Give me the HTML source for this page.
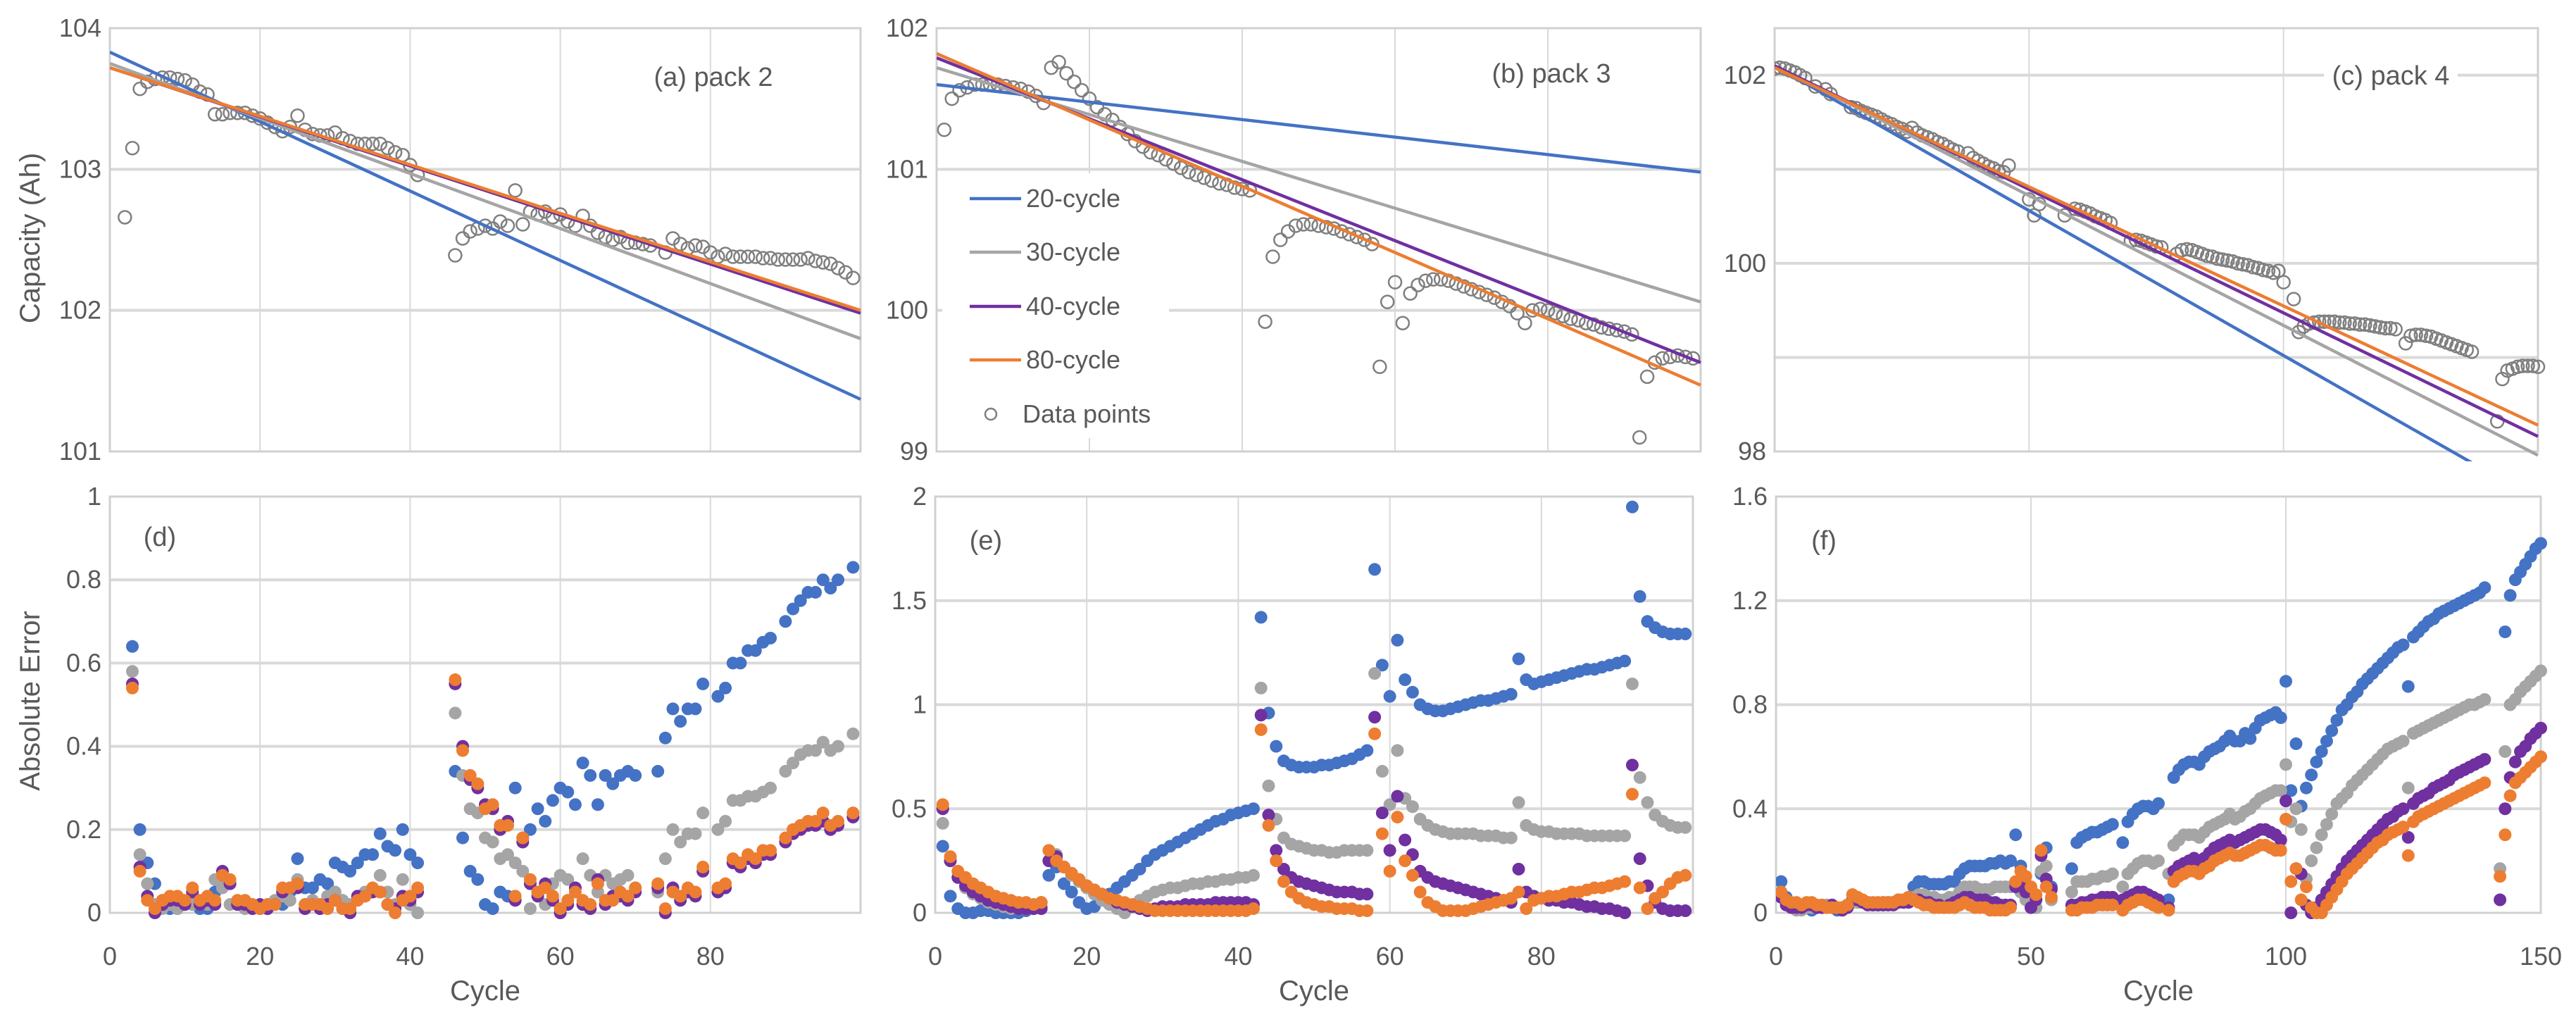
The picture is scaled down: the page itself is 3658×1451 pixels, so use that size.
<!DOCTYPE html>
<html><head><meta charset="utf-8"><title>Capacity fits and absolute error</title>
<style>
html,body{margin:0;padding:0;background:#fff;}
svg{display:block;}
text{font-family:"Liberation Sans Narrow","Liberation Sans",sans-serif;fill:#595959;}
</style></head>
<body>
<svg id="chart" xmlns="http://www.w3.org/2000/svg" width="3658" height="1451" viewBox="0 0 3658 1451"></svg>
<script>
// ---------- DATA ----------
const aStart = 2;
const aData = [102.66,103.15,103.57,103.62,103.64,103.65,103.65,103.64,103.63,103.60,
103.55,103.53,103.39,103.39,103.40,103.40,103.40,103.38,103.36,103.33,
103.30,103.27,103.30,103.38,103.28,103.25,103.24,103.24,103.26,103.22,
103.20,103.18,103.18,103.18,103.18,103.15,103.12,103.10,103.03,102.96,
null,null,null,null,102.39,102.51,102.56,102.58,102.60,102.58,
102.63,102.60,102.85,102.61,102.70,102.68,102.70,102.66,102.68,102.63,
102.60,102.67,102.60,102.55,102.52,102.50,102.52,102.48,102.48,102.47,
102.46,null,102.41,102.51,102.47,102.44,102.46,102.45,102.41,102.38,
102.40,102.38,102.38,102.38,102.38,102.37,102.37,102.36,102.36,102.36,
102.36,102.37,102.35,102.34,102.33,102.30,102.27,102.23];
const aFitStart = [103.83,103.75,103.72,103.72];
const aFitEnd   = [101.37,101.80,101.98,102.00];

const bStart = 1;
const bData = [101.28,101.50,101.56,101.58,101.60,101.60,101.60,101.60,101.59,101.58,
101.57,101.55,101.52,101.47,101.72,101.76,101.68,101.62,101.56,101.50,
101.44,101.39,101.35,101.30,101.25,101.20,101.16,101.12,101.10,101.07,
101.04,101.01,100.98,100.96,100.94,100.92,100.90,100.89,100.87,100.86,
100.85,null,99.92,100.38,100.50,100.56,100.60,100.61,100.61,100.60,
100.59,100.58,100.56,100.54,100.52,100.50,100.47,99.60,100.06,100.20,
99.91,100.12,100.18,100.21,100.22,100.22,100.21,100.19,100.17,100.15,
100.13,100.11,100.09,100.06,100.03,99.98,99.91,100.00,100.01,100.00,
99.98,99.96,99.94,99.93,99.91,99.90,99.88,99.87,99.86,99.85,
99.83,99.10,99.53,99.63,99.66,99.67,99.68,99.67,99.66];
const bFitStart = [101.60,101.72,101.79,101.82];
const bFitEnd   = [100.98,100.06,99.63,99.47];

const cStart = 0;
const cData = [102.07,102.08,102.07,102.05,102.03,102.00,101.97,null,101.88,null,
101.85,101.80,null,null,null,101.66,101.65,101.62,101.60,101.58,
101.56,101.53,101.50,101.48,101.45,101.43,101.40,101.44,101.39,101.36,
101.34,101.32,101.29,101.27,101.24,101.21,101.19,null,101.17,101.12,
101.09,101.06,101.03,101.01,100.98,100.97,101.04,null,null,null,
100.68,100.51,100.63,null,null,null,null,100.51,null,100.58,
100.57,100.55,100.53,100.50,100.48,100.46,100.43,null,null,null,
100.24,100.25,100.24,100.22,100.20,100.18,100.17,null,null,100.10,
100.14,100.15,100.14,100.12,100.10,100.08,100.07,100.05,100.04,100.03,
100.02,100.00,99.99,99.98,99.96,99.95,99.93,99.92,99.90,99.92,
99.80,null,99.62,99.27,99.33,99.36,99.37,99.38,99.38,99.38,
99.38,99.37,99.37,99.36,99.36,99.35,99.35,99.34,99.33,99.32,
99.31,99.31,99.30,null,99.15,99.23,99.24,99.24,99.23,99.22,
99.20,99.18,99.16,99.14,99.12,99.10,99.08,99.06,null,null,
null,null,98.32,98.77,98.86,98.88,98.90,98.91,98.91,98.91,
98.90];
const cFitStart = [102.10,102.10,102.10,102.08];
const cFitEnd   = [97.48,97.96,98.16,98.28];

const dStart = 3;
const dBlue = [.64,.20,.12,.07,.03,.01,.01,.02,.02,.01,
.01,.05,.08,.07,.02,.02,.01,.01,.01,.02,
.02,.05,.13,.06,.06,.08,.07,.12,.11,.10,
.12,.14,.14,.19,.16,.15,.20,.14,.12,null,
null,null,null,.34,.18,.10,.08,.02,.01,.05,
.04,.30,.18,.20,.25,.22,.27,.30,.29,.26,
.36,.33,.26,.33,.31,.33,.34,.33,null,null,
.34,.42,.49,.46,.49,.49,.55,null,.52,.54,
.60,.60,.63,.63,.65,.66,null,.70,.73,.75,
.77,.77,.80,.78,.80,null,.83];
const dGray = [.58,.14,.07,.02,.01,.02,.01,.02,.02,.02,
.02,.08,.06,.02,.02,.01,.02,.02,.02,.03,
.04,.03,.08,.02,.03,.02,.04,.05,.03,.02,
.04,.05,.05,.09,.05,.02,.08,.02,.00,null,
null,null,null,.48,.33,.25,.24,.18,.17,.13,
.14,.12,.10,.01,.05,.02,.07,.09,.08,.06,
.13,.09,.05,.09,.07,.08,.09,.06,null,null,
.05,.13,.20,.17,.19,.19,.24,null,.20,.22,
.27,.27,.28,.28,.29,.30,null,.34,.36,.38,
.39,.39,.41,.39,.40,null,.43];
const dPurple = [.55,.11,.04,.00,.02,.03,.03,.02,.05,.02,
.03,.02,.10,.07,.02,.02,.01,.02,.01,.02,
.05,.06,.06,.01,.02,.01,.02,.03,.01,.00,
.04,.04,.05,.05,.02,.01,.04,.03,.05,null,
null,null,null,.55,.40,.32,.30,.26,.25,.20,
.22,.03,.17,.07,.04,.07,.03,.00,.02,.06,
.02,.01,.08,.02,.04,.04,.03,.05,null,null,
.06,.00,.06,.03,.05,.04,.10,null,.05,.06,
.12,.11,.13,.12,.14,.14,null,.17,.19,.20,
.21,.21,.22,.20,.21,null,.23];
const dOrange = [.54,.10,.03,.01,.03,.04,.04,.03,.06,.03,
.04,.03,.09,.08,.03,.03,.02,.01,.02,.02,
.06,.06,.07,.02,.02,.02,.01,.03,.01,.01,
.03,.04,.06,.05,.02,.00,.03,.04,.06,null,
null,null,null,.56,.39,.33,.31,.25,.26,.21,
.21,.04,.18,.08,.05,.06,.04,.01,.03,.05,
.03,.02,.07,.03,.03,.05,.04,.06,null,null,
.07,.01,.05,.04,.06,.05,.11,null,.06,.07,
.13,.12,.14,.13,.15,.15,null,.18,.20,.21,
.22,.22,.24,.21,.22,null,.24];

const eStart = 1;
const eBlue = [.32,.08,.02,.00,.00,.01,.01,.00,.00,.00,
.00,.01,.02,.05,.18,.22,.14,.10,.05,.02,
.03,.06,.09,.12,.15,.18,.21,.25,.28,.30,
.32,.34,.36,.38,.40,.42,.44,.45,.47,.48,
.49,.50,1.42,.96,.80,.73,.71,.70,.70,.70,
.71,.71,.72,.73,.74,.76,.78,1.65,1.19,1.04,
1.31,1.12,1.06,1.00,.98,.97,.97,.98,.99,1.00,
1.01,1.02,1.02,1.03,1.04,1.05,1.22,1.12,1.10,1.11,
1.12,1.13,1.14,1.15,1.16,1.17,1.17,1.18,1.19,1.20,
1.21,1.95,1.52,1.40,1.37,1.35,1.34,1.34,1.34];
const eGray = [.43,.25,.17,.12,.09,.07,.05,.04,.03,.02,
.02,.02,.02,.03,.25,.28,.22,.18,.15,.12,
.09,.06,.04,.02,.00,.03,.06,.08,.10,.11,
.12,.12,.13,.14,.14,.15,.15,.16,.16,.17,
.17,.18,1.08,.61,.45,.36,.33,.32,.31,.30,
.30,.29,.29,.30,.30,.30,.30,1.15,.68,.52,
.78,.55,.51,.45,.42,.40,.39,.38,.38,.38,
.38,.37,.37,.37,.36,.36,.53,.42,.40,.39,
.39,.38,.38,.38,.38,.37,.37,.37,.37,.37,
.37,1.10,.65,.53,.47,.44,.42,.41,.41];
const ePurple = [.50,.25,.17,.13,.10,.08,.06,.05,.04,.03,
.02,.02,.02,.02,.25,.27,.22,.19,.16,.13,
.11,.09,.07,.05,.04,.03,.02,.01,.02,.03,
.03,.03,.04,.04,.04,.04,.05,.05,.05,.05,
.05,.04,.95,.47,.30,.21,.17,.15,.14,.13,
.12,.11,.10,.10,.10,.09,.09,.94,.48,.30,
.56,.35,.28,.20,.17,.15,.14,.13,.12,.11,
.10,.09,.08,.07,.06,.05,.21,.10,.08,.07,
.06,.06,.05,.05,.04,.03,.03,.02,.02,.01,
.00,.71,.26,.13,.05,.02,.01,.01,.01];
const eOrange = [.52,.27,.20,.17,.14,.12,.10,.08,.07,.06,
.05,.05,.04,.05,.30,.25,.22,.19,.16,.13,
.11,.09,.07,.06,.05,.04,.03,.02,.01,.01,
.01,.01,.01,.01,.01,.01,.01,.01,.01,.01,
.01,.02,.88,.42,.25,.15,.10,.07,.05,.04,
.03,.03,.02,.02,.02,.01,.01,.86,.38,.20,
.46,.25,.18,.10,.05,.03,.01,.01,.01,.01,
.02,.03,.04,.05,.06,.07,.10,.02,.06,.07,
.08,.08,.09,.10,.10,.11,.12,.12,.13,.14,
.15,.57,.12,.02,.07,.10,.14,.17,.18];

const fStart = 1;
const fBlue = [.12,.06,.03,.02,.02,.02,.01,.02,.02,.03,
.02,.01,.02,.03,.04,.05,.04,.04,.03,.03,
.04,.04,.04,.05,.05,.06,.10,.12,.12,.11,
.11,.11,.11,.12,.12,.15,.17,.18,.18,.18,
.18,.19,.19,.20,.19,.20,.30,.18,.10,.05,
.02,.15,.25,.10,null,null,null,.17,.27,.29,
.30,.31,.31,.32,.33,.34,null,.27,.35,.38,
.40,.41,.41,.40,.42,null,.05,.52,.55,.57,
.58,.58,.57,.60,.62,.63,.64,.66,.68,.66,
.66,.69,.67,.71,.74,.75,.76,.77,.75,.89,
.47,.65,.41,.48,.53,.58,.62,.66,.70,.74,
.78,.80,.83,.85,.88,.90,.92,.94,.96,.98,
1.00,1.02,1.03,.87,1.06,1.08,1.10,1.12,1.13,1.15,
1.16,1.17,1.18,1.19,1.20,1.21,1.22,1.23,1.25,null,
null,null,1.08,1.22,1.28,1.31,1.34,1.37,1.40,1.42];
const fGray = [.08,.04,.02,.01,.01,.02,.02,.02,.03,.03,
.02,.02,.02,.03,.04,.04,.04,.04,.03,.03,
.03,.04,.04,.04,.04,.05,.06,.07,.07,.06,
.06,.05,.05,.06,.06,.08,.10,.10,.10,.09,
.09,.09,.10,.10,.10,.10,.12,.08,.05,.02,
.02,.16,.18,.05,null,null,null,.08,.12,.12,
.12,.13,.13,.14,.14,.15,null,.10,.15,.17,
.19,.20,.20,.19,.20,null,.15,.26,.28,.30,
.30,.30,.29,.31,.33,.34,.35,.36,.38,.36,
.37,.39,.40,.42,.44,.45,.46,.47,.47,.57,
.35,.40,.32,.13,.20,.25,.30,.34,.38,.42,
.44,.46,.49,.51,.53,.55,.57,.59,.61,.63,
.64,.65,.66,.48,.69,.70,.71,.72,.73,.74,
.75,.76,.77,.78,.79,.80,.80,.81,.82,null,
null,.17,.62,.80,.82,.85,.87,.89,.91,.93];
const fPurple = [.06,.03,.02,.02,.02,.03,.03,.02,.02,.02,
.03,.02,.01,.02,.05,.05,.04,.03,.03,.03,
.03,.03,.03,.04,.04,.04,.05,.05,.04,.04,
.03,.03,.02,.03,.04,.05,.06,.06,.05,.05,
.05,.04,.04,.03,.03,.03,.10,.12,.08,.02,
.05,.22,.13,.09,null,null,null,.03,.03,.04,
.04,.05,.05,.06,.06,.06,null,.05,.06,.07,
.08,.08,.07,.06,.05,null,.02,.16,.18,.19,
.20,.21,.19,.21,.23,.25,.26,.27,.28,.27,
.28,.29,.30,.31,.32,.32,.31,.30,.28,.43,
.00,.17,.15,.03,.00,.02,.05,.08,.11,.14,
.17,.20,.22,.24,.26,.28,.30,.32,.34,.36,
.37,.39,.40,.29,.42,.44,.45,.46,.48,.49,
.50,.51,.53,.54,.55,.56,.57,.58,.59,null,
null,.05,.40,.52,.58,.62,.64,.67,.69,.71];
const fOrange = [.08,.05,.04,.04,.03,.04,.04,.03,.03,.02,
.02,.02,.02,.03,.07,.06,.05,.04,.04,.04,
.04,.04,.04,.05,.05,.06,.05,.04,.03,.03,
.02,.02,.02,.02,.02,.03,.04,.03,.02,.02,
.02,.01,.01,.01,.01,.02,.12,.16,.14,.10,
.07,.24,.10,.06,null,null,null,.01,.01,.02,
.02,.02,.03,.03,.03,.03,null,.01,.03,.04,
.05,.05,.04,.03,.02,null,.01,.12,.14,.15,
.16,.16,.15,.17,.18,.20,.21,.22,.23,.22,
.22,.23,.24,.25,.26,.26,.25,.24,.24,.36,
.12,.17,.05,.10,.02,.00,.00,.03,.06,.09,
.12,.15,.17,.19,.21,.23,.25,.27,.28,.30,
.31,.32,.33,.22,.35,.37,.38,.39,.40,.41,
.42,.43,.44,.45,.46,.47,.48,.49,.50,null,
null,.14,.30,.45,.50,.52,.54,.56,.58,.60];

const seriesNames = ["20-cycle","30-cycle","40-cycle","80-cycle"];
const aYTicks = [101,102,103,104];
const bYTicks = [99,100,101,102];
const cYTicks = [98,100,102];
const dYTicks = [0,0.2,0.4,0.6,0.8,1];
const eYTicks = [0,0.5,1,1.5,2];
const fYTicks = [0,0.4,0.8,1.2,1.6];
const xTicks100 = [0,20,40,60,80];
const xTicks150 = [0,50,100,150];

// ---------- RENDER ----------
const NS = "http://www.w3.org/2000/svg";
const svg = document.getElementById("chart");
const COLORS = ["#4472c4","#a5a5a5","#7030a0","#ed7d31"];
const defs = document.createElementNS(NS, "defs");
svg.appendChild(defs);
function mk(tag, attrs, parent){
  const e = document.createElementNS(NS, tag);
  for (const k in attrs) e.setAttribute(k, attrs[k]);
  (parent || svg).appendChild(e);
  return e;
}
function txt(str, attrs, parent){ const t = mk("text", attrs, parent); t.textContent = str; return t; }

let clipN = 0;
function panel(cfg){
  const g = mk("g", {});
  
  
  const xs = v => cfg.x0 + (v - cfg.xmin) / (cfg.xmax - cfg.xmin) * (cfg.x1 - cfg.x0);
  const ys = v => cfg.y1 - (v - cfg.ymin) / (cfg.ymax - cfg.ymin) * (cfg.y1 - cfg.y0);
  const cid = "clip" + (clipN++);
  const cp = mk("clipPath", {id:cid}, defs);
  mk("rect", {x:cfg.x0, y:cfg.y0 - 14, width:cfg.x1 - cfg.x0 + 14, height:cfg.y1 - cfg.y0 + 28}, cp);
  for (let v = cfg.xmin + cfg.xgrid; v < cfg.xmax; v += cfg.xgrid){
    const l = mk("line", {x1:xs(v), x2:xs(v), y1:cfg.y0, y2:cfg.y1, stroke:"#d9d9d9", "stroke-width":2}, g);
    
    
  }
  for (const v of cfg.hgrid){
    const l = mk("line", {x1:cfg.x0, x2:cfg.x1, y1:ys(v), y2:ys(v), stroke:"#d9d9d9", "stroke-width":4}, g);
    
    
  }
  const fr = mk("rect", {x:cfg.x0, y:cfg.y0, width:cfg.x1-cfg.x0, height:cfg.y1-cfg.y0, fill:"none", stroke:"#d0d0d0", "stroke-width":3}, g);
  
  
  for (const v of cfg.yTicks){
    const t = txt(String(v), {x:cfg.x0 - 12, y:ys(v) + 12, "text-anchor":"end", "font-size":36}, g);
    
    
  }
  if (cfg.xTicks){
    for (const v of cfg.xTicks){
      const t = txt(String(v), {x:xs(v), y:1370, "text-anchor":"middle", "font-size":36}, g);
      
      
    }
    const xt = txt("Cycle", {x:(cfg.x0+cfg.x1)/2, y:1420, "text-anchor":"middle", "font-size":40}, g);
    
    
  }
  const plot = mk("g", {"clip-path":"url(#" + cid + ")"}, g);
  
  
  return {g, plot, xs, ys, cfg};
}
function panelLabel(p){
  const cfg = p.cfg;
  if (cfg.labelBg){
    const bg = mk("rect", {x:cfg.lx-95, y:cfg.ly-26, width:190, height:52, fill:"#fff"}, p.g);
    
    
  }
  const pl = txt(cfg.label, {x:cfg.lx, y:cfg.ly+13, "text-anchor":"middle", "font-size":38}, p.g);
  
  
}

function capacityPanel(cfg, data, start, fitS, fitE){
  const p = panel(cfg);
  for (let i = 0; i < data.length; i++){
    if (data[i] === null) continue;
    const c = mk("circle", {cx:p.xs(start+i), cy:p.ys(data[i]), r:9, fill:"none", stroke:"#7f7f7f", "stroke-width":2.5}, p.plot);
    
    
  }
  for (let s = 0; s < 4; s++){
    const l = mk("line", {x1:p.xs(cfg.xmin), y1:p.ys(fitS[s]), x2:p.xs(cfg.xmax), y2:p.ys(fitE[s]), stroke:COLORS[s], "stroke-width":4.5}, p.plot);
    
    
  }
  panelLabel(p);
  return p;
}

function errorPanel(cfg, start, arrs){
  const p = panel(cfg);
  for (let s = 0; s < 4; s++){
    const arr = arrs[s];
    for (let i = 0; i < arr.length; i++){
      if (arr[i] === null) continue;
      const c = mk("circle", {cx:p.xs(start+i), cy:p.ys(arr[i]), r:9, fill:COLORS[s]}, p.plot);
      
      
    }
  }
  panelLabel(p);
  return p;
}

const TOP0 = 40, TOP1 = 641, BOT0 = 705, BOT1 = 1296;
capacityPanel({name:"panel-a-pack2", x0:156, x1:1222, y0:TOP0, y1:TOP1, xmin:0, xmax:100, ymin:101, ymax:104, xgrid:20, hgrid:[102,103], yTicks:aYTicks, label:"(a) pack 2", lx:1013, ly:109}, aData, aStart, aFitStart, aFitEnd);
capacityPanel({name:"panel-b-pack3", x0:1330, x1:2415, y0:TOP0, y1:TOP1, xmin:0, xmax:100, ymin:99, ymax:102, xgrid:20, hgrid:[100,101], yTicks:bYTicks, label:"(b) pack 3", lx:2203, ly:104}, bData, bStart, bFitStart, bFitEnd);
capacityPanel({name:"panel-c-pack4", x0:2520, x1:3604, y0:TOP0, y1:TOP1, xmin:0, xmax:150, ymin:98, ymax:102.5, xgrid:50, hgrid:[99,100,101,102], yTicks:cYTicks, label:"(c) pack 4", lx:3395, ly:107, labelBg:true}, cData, cStart, cFitStart, cFitEnd);
errorPanel({name:"panel-d-pack2-error", x0:156, x1:1222, y0:BOT0, y1:BOT1, xmin:0, xmax:100, ymin:0, ymax:1, xgrid:20, hgrid:[0.2,0.4,0.6,0.8], yTicks:dYTicks, xTicks:xTicks100, label:"(d)", lx:227, ly:762}, dStart, [dBlue,dGray,dPurple,dOrange]);
errorPanel({name:"panel-e-pack3-error", x0:1328, x1:2404, y0:BOT0, y1:BOT1, xmin:0, xmax:100, ymin:0, ymax:2, xgrid:20, hgrid:[0.5,1,1.5], yTicks:eYTicks, xTicks:xTicks100, label:"(e)", lx:1400, ly:767}, eStart, [eBlue,eGray,ePurple,eOrange]);
errorPanel({name:"panel-f-pack4-error", x0:2522, x1:3608, y0:BOT0, y1:BOT1, xmin:0, xmax:150, ymin:0, ymax:1.6, xgrid:50, hgrid:[0.4,0.8,1.2], yTicks:fYTicks, xTicks:xTicks150, label:"(f)", lx:2590, ly:767}, fStart, [fBlue,fGray,fPurple,fOrange]);

const yt1 = txt("Capacity (Ah)", {x:0, y:0, "text-anchor":"middle", "font-size":40, transform:"translate(56,338) rotate(-90)"});


const yt2 = txt("Absolute Error", {x:0, y:0, "text-anchor":"middle", "font-size":40, transform:"translate(56,995) rotate(-90)"});



const lg = mk("g", {});


const lbg = mk("rect", {x:1338, y:246, width:322, height:376, fill:"#fff"}, lg);


const legendRows = [282,358,435,511];
for (let s = 0; s < 4; s++){
  const ln = mk("line", {x1:1377, x2:1450, y1:legendRows[s], y2:legendRows[s], stroke:COLORS[s], "stroke-width":4.5}, lg);
  
  
  const lt = txt(seriesNames[s], {x:1457, y:legendRows[s]+12, "font-size":36}, lg);
  
  
}
const lc = mk("circle", {cx:1407, cy:588, r:8, fill:"none", stroke:"#7f7f7f", "stroke-width":2.5}, lg);


const lct = txt("Data points", {x:1452, y:600, "font-size":36}, lg);


</script>
</body></html>
